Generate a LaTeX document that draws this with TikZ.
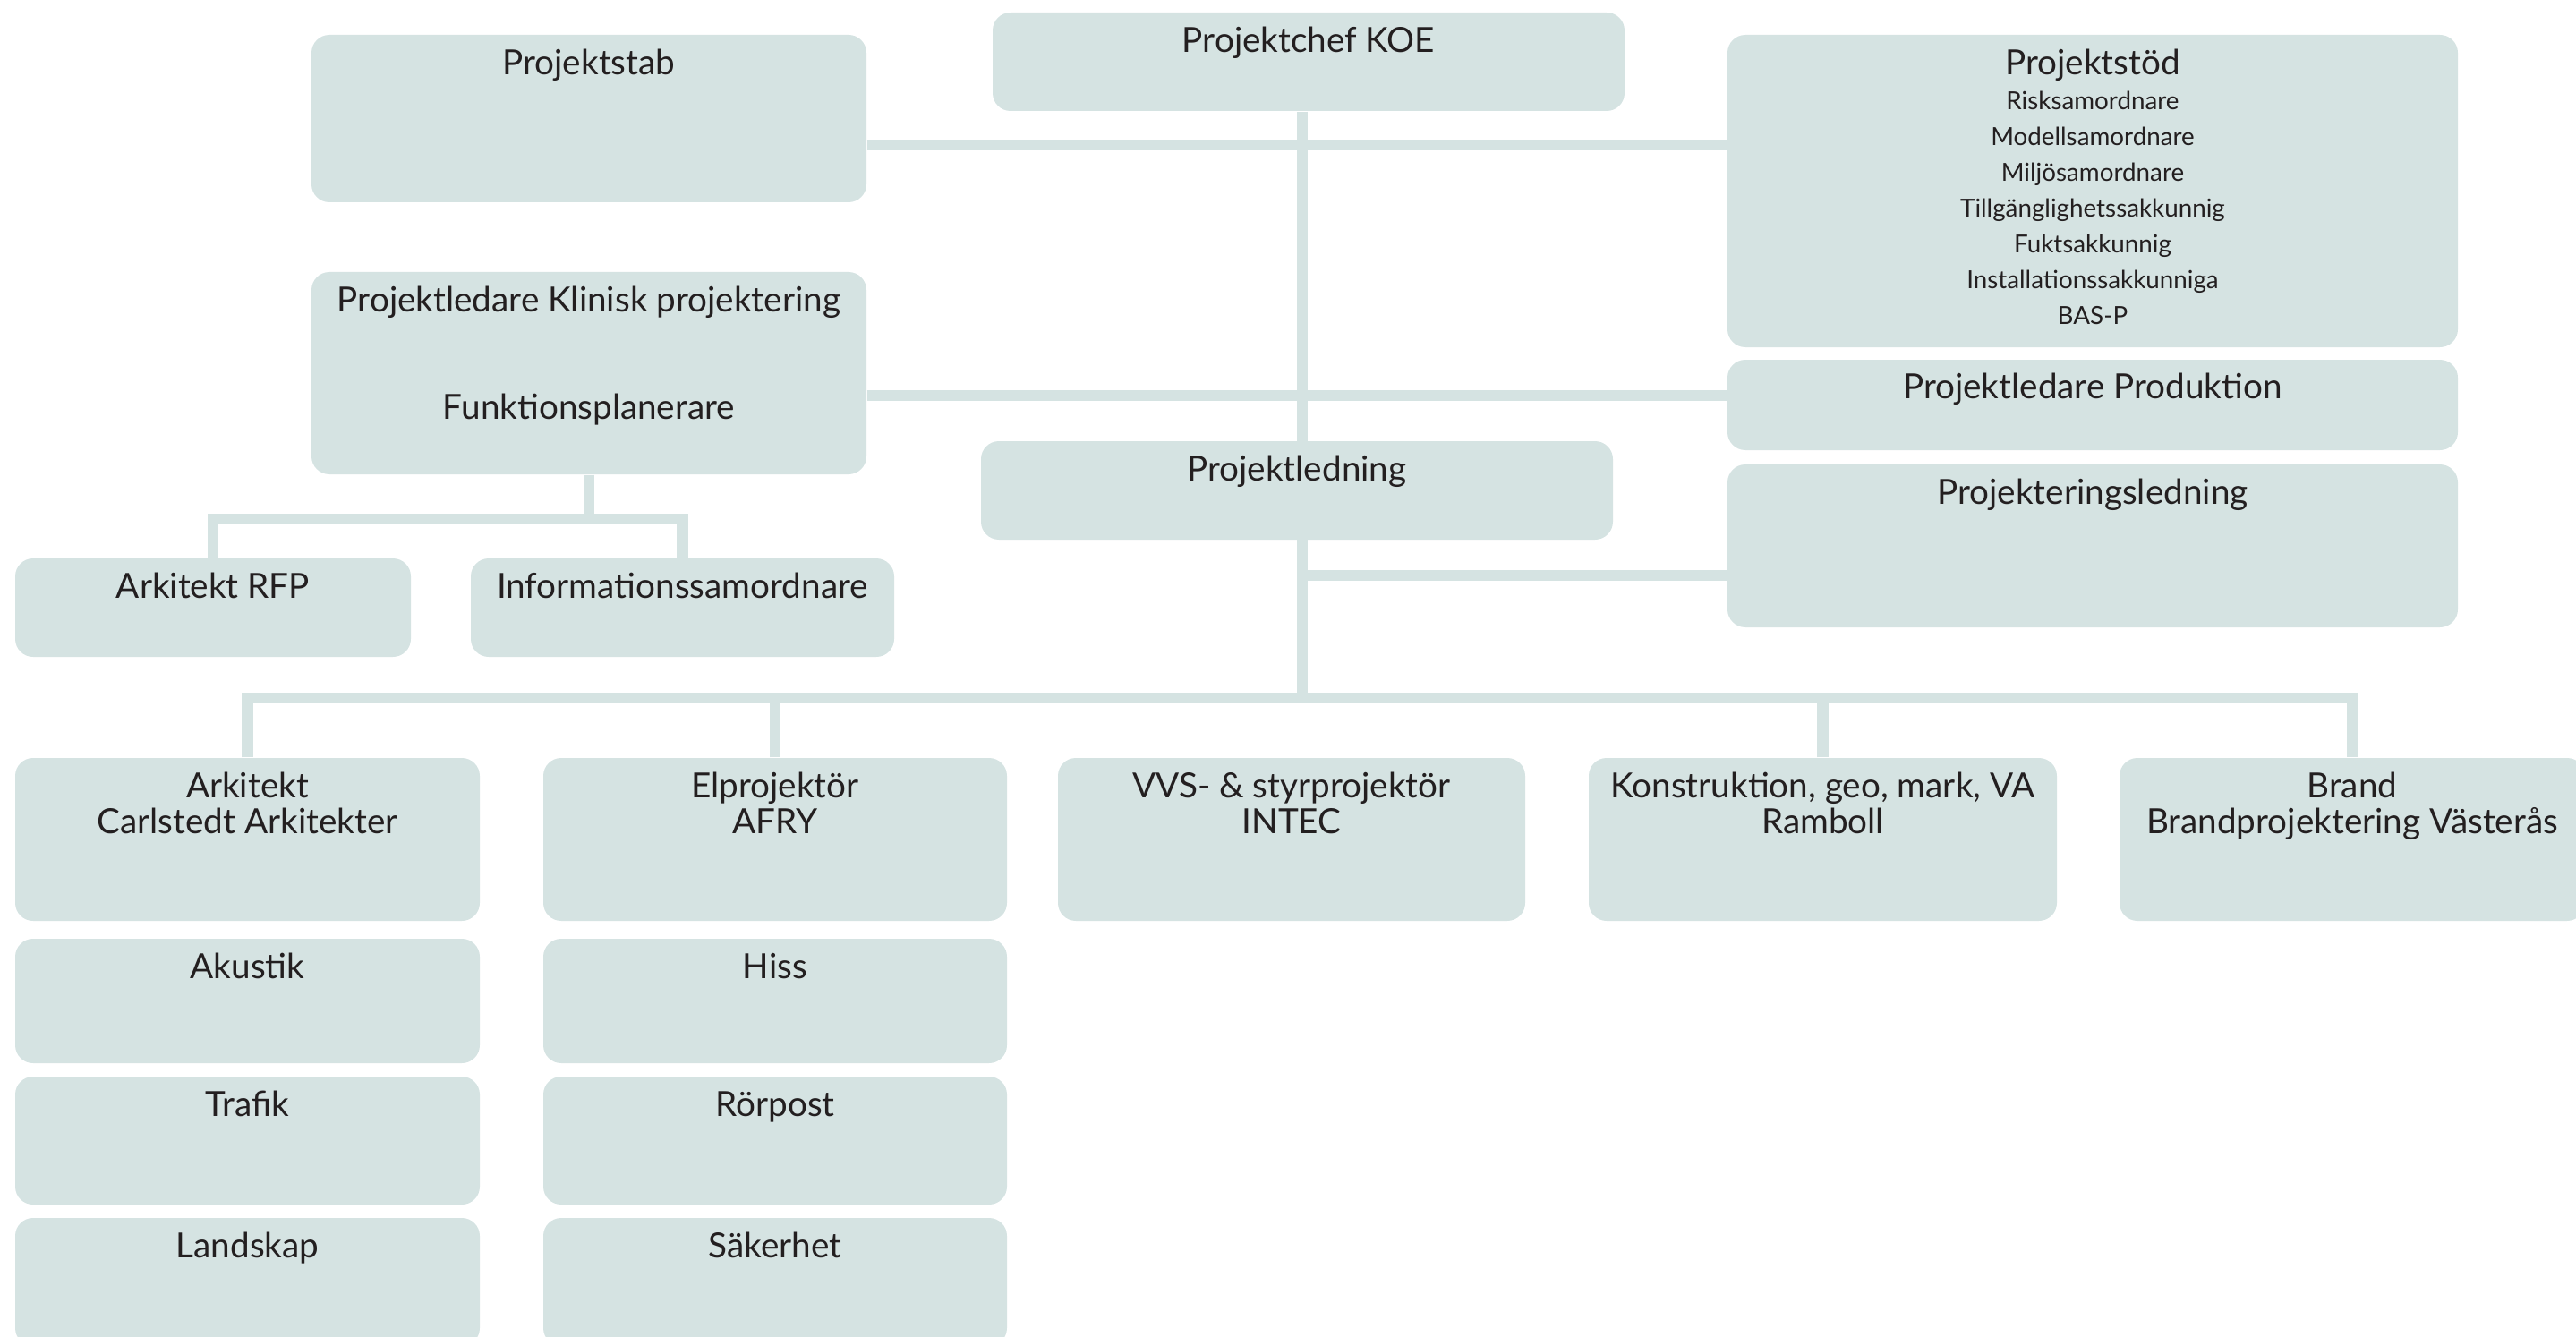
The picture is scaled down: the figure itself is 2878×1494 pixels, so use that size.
\documentclass[tikz,border=0pt]{standalone}
\usepackage{fontspec}
\setmainfont{Lato}
\usetikzlibrary{fit,calc,backgrounds}
\definecolor{boxfill}{HTML}{D5E3E2}
\definecolor{ink}{HTML}{231F20}
\tikzset{
  box/.style={fill=boxfill, draw=none, rounded corners=0.2cm, inner sep=0pt},
  lbl/.style={anchor=north, inner sep=0pt, align=center, text=ink,
    font=\fontsize{11pt}{11.38pt}\selectfont},
  smalllbl/.style={lbl, font=\fontsize{7.9pt}{11.38pt}\selectfont},
  conn/.style={draw=boxfill, line width=0.125cm},
}
% a label whose first baseline sits #3 px below the top of box #2;
% the 14pt strut fixes the distance from the node top to that baseline
\newcommand{\boxlabel}[5][lbl]{\node[#1] (#2T#5) at ($(#2.north)+(0,#3-49.21)$) {\rule{0pt}{14pt}#4};}
\begin{document}
\begin{tikzpicture}[x=0.01cm, y=-0.01cm]
\useasboundingbox (0,0) rectangle (2878,1494);
\clip (0,0) rectangle (2878,1494);

% top level
\node[box, fit={(1109,14) (1815,124)}] (chef) {};
\node[box, fit={(348,39) (968,226)}] (stab) {};
\node[box, fit={(1930,39) (2746,388)}] (stod) {};
\node[box, fit={(348,304) (968,530)}] (klin) {};
\node[box, fit={(1930,402) (2746,503)}] (prod) {};
\node[box, fit={(1096,493) (1802,603)}] (pled) {};
\node[box, fit={(1930,519) (2746,701)}] (psl) {};
\node[box, fit={(17,624) (459,734)}] (rfp) {};
\node[box, fit={(526,624) (999,734)}] (info) {};

% consultants
\node[box, fit={(17,847) (536,1029)}] (ark) {};
\node[box, fit={(607,847) (1125,1029)}] (el) {};
\node[box, fit={(1182,847) (1704,1029)}] (vvs) {};
\node[box, fit={(1775,847) (2298,1029)}] (kon) {};
\node[box, fit={(2368,847) (2888,1029)}] (brand) {};
\node[box, fit={(17,1049) (536,1188)}] (aku) {};
\node[box, fit={(607,1049) (1125,1188)}] (hiss) {};
\node[box, fit={(17,1203) (536,1346)}] (traf) {};
\node[box, fit={(607,1203) (1125,1346)}] (ror) {};
\node[box, fit={(17,1361) (536,1504)}] (land) {};
\node[box, fit={(607,1361) (1125,1504)}] (sak) {};

% labels
\boxlabel{chef}{44}{Projektchef KOE}{}
\boxlabel{stab}{44}{Projektstab}{}
\boxlabel{stod}{44}{Projektstöd}{}
\boxlabel[smalllbl]{stod}{83}{Risksamordnare\\Modellsamordnare\\Miljösamordnare\\Tillgänglighetssakkunnig\\Fuktsakkunnig\\Installationssakkunniga\\BAS-P}{2}
\boxlabel{klin}{44}{Projektledare Klinisk projektering}{}
\boxlabel{klin}{164}{Funktionsplanerare}{2}
\boxlabel{prod}{43}{Projektledare Produktion}{}
\boxlabel{pled}{44}{Projektledning}{}
\boxlabel{psl}{44}{Projekteringsledning}{}
\boxlabel{rfp}{44}{Arkitekt RFP}{}
\boxlabel{info}{44}{Informationssamordnare}{}
\boxlabel{ark}{44}{Arkitekt\\Carlstedt Arkitekter}{}
\boxlabel{el}{44}{Elprojektör\\AFRY}{}
\boxlabel{vvs}{44}{VVS- \& styrprojektör\\INTEC}{}
\boxlabel{kon}{44}{Konstruktion, geo, mark, VA\\Ramboll}{}
\boxlabel{brand}{44}{Brand\\Brandprojektering Västerås}{}
\boxlabel{aku}{44}{Akustik}{}
\boxlabel{hiss}{44}{Hiss}{}
\boxlabel{traf}{44}{Trafik}{}
\boxlabel{ror}{44}{Rörpost}{}
\boxlabel{land}{44}{Landskap}{}
\boxlabel{sak}{44}{Säkerhet}{}

% junction points of the connector bars
\coordinate (tr) at (1455,780);
\coordinate (hTop) at (1455,162);
\coordinate (hMid) at (1455,442);
\coordinate (hLow) at (1455,643);
\coordinate (sub) at (658,580);

\begin{scope}[on background layer]
  \draw[conn] (chef.south -| tr) -- (tr);
  \draw[conn] (stab.east |- hTop) -- (stod.west |- hTop);
  \draw[conn] (klin.east |- hMid) -- (prod.west |- hMid);
  \draw[conn] (hLow) -- (psl.west |- hLow);
  \draw[conn] (ark.north) |- (tr) -| (brand.north);
  \draw[conn] (el.north) -- (el.north |- tr);
  \draw[conn] (kon.north) -- (kon.north |- tr);
  \draw[conn] (klin.south) -- (sub);
  \draw[conn] (rfp.north) |- (sub) -| (info.north);
\end{scope}
\end{tikzpicture}
\end{document}
